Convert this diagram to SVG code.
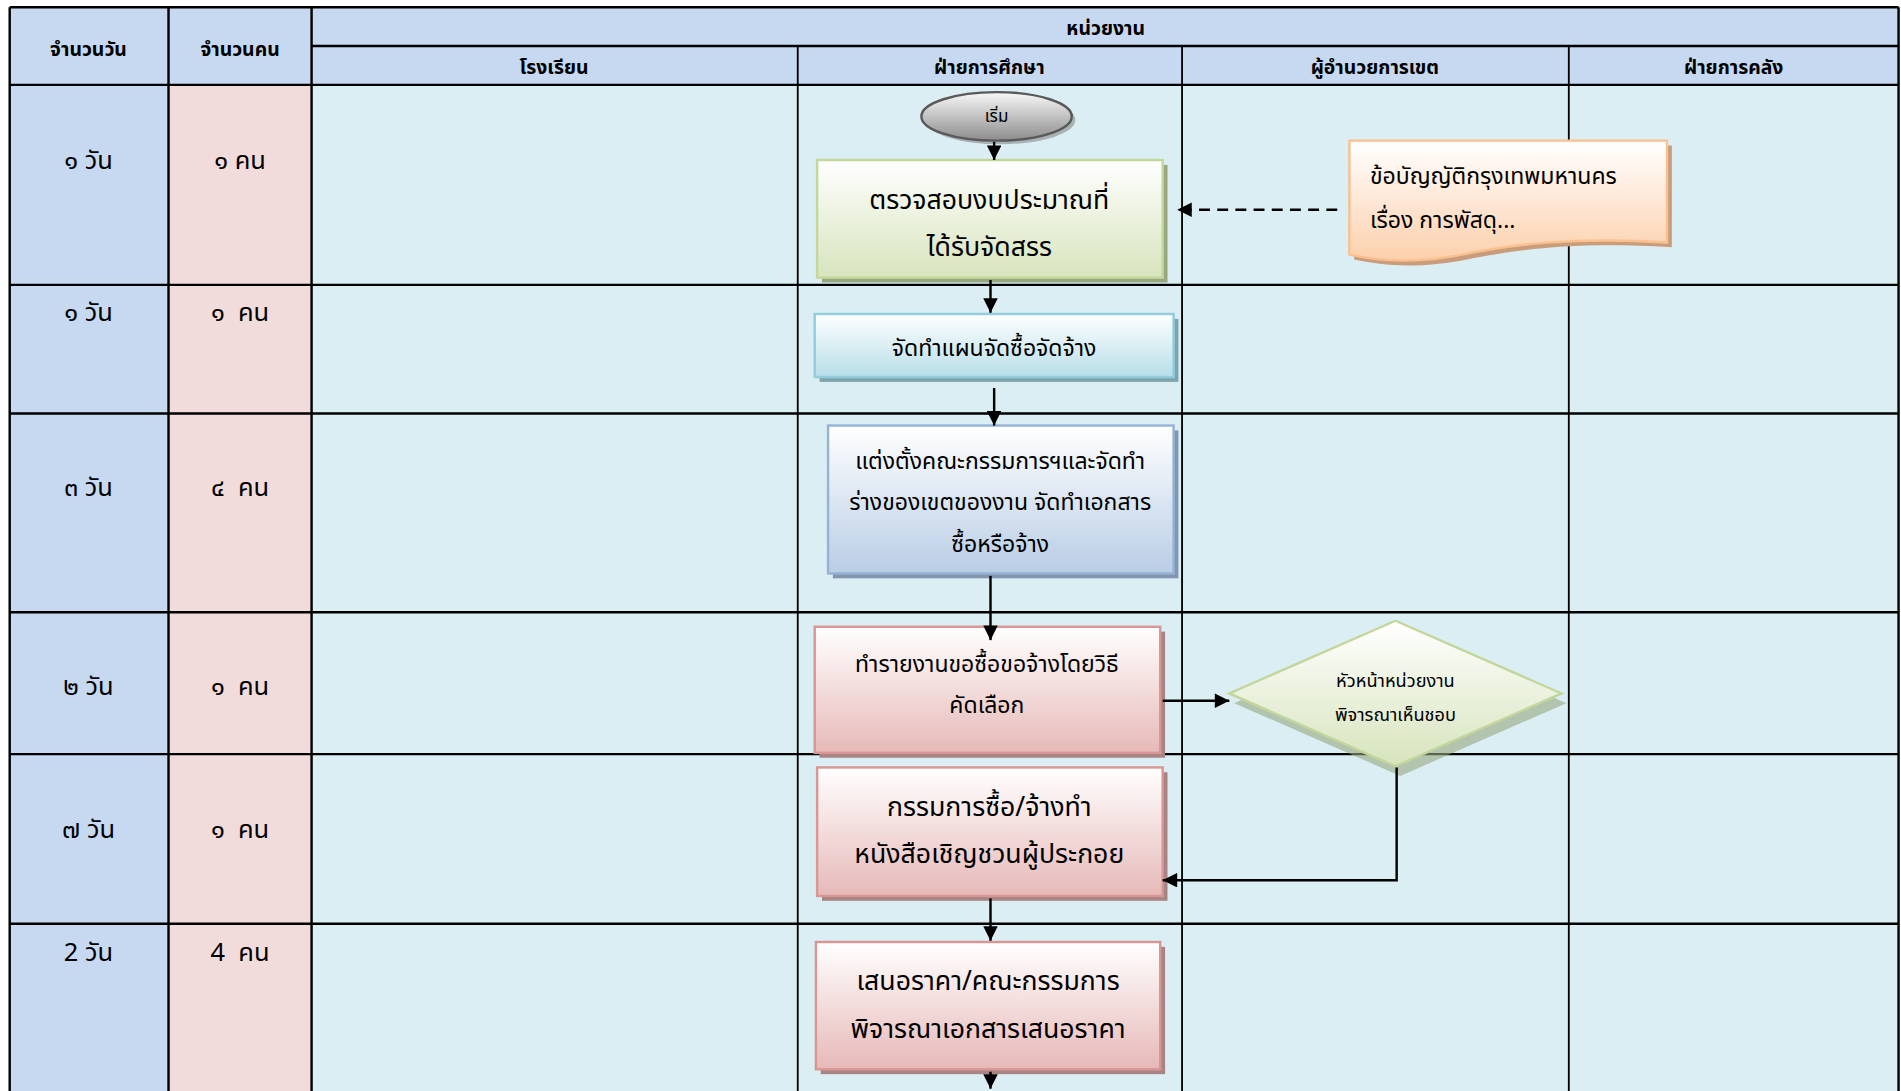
<svg xmlns="http://www.w3.org/2000/svg" width="1901" height="1091" viewBox="0 0 1901 1091">
<defs>
<linearGradient id="gGreen" x1="0" y1="0" x2="0" y2="1"><stop offset="0" stop-color="#ffffff"/><stop offset="1" stop-color="#d7e4bd"/></linearGradient>
<linearGradient id="gCyan" x1="0" y1="0" x2="0" y2="1"><stop offset="0" stop-color="#ffffff"/><stop offset="1" stop-color="#b7dee8"/></linearGradient>
<linearGradient id="gBlue" x1="0" y1="0" x2="0" y2="1"><stop offset="0" stop-color="#ffffff"/><stop offset="1" stop-color="#b9cde5"/></linearGradient>
<linearGradient id="gRed" x1="0" y1="0" x2="0" y2="1"><stop offset="0" stop-color="#ffffff"/><stop offset="1" stop-color="#e6b9b8"/></linearGradient>
<linearGradient id="gOrange" x1="0" y1="0" x2="0" y2="1"><stop offset="0" stop-color="#ffffff"/><stop offset="1" stop-color="#fcd0ac"/></linearGradient>
<linearGradient id="gGray" x1="0" y1="0" x2="0" y2="1"><stop offset="0" stop-color="#f8f8f8"/><stop offset="1" stop-color="#8c8c8c"/></linearGradient>
<marker id="arr" viewBox="0 0 10 10" refX="10" refY="5" markerWidth="14" markerHeight="12" orient="auto" markerUnits="userSpaceOnUse">
<path d="M0,0 L10,5 L0,10 Z" fill="#000"/>
</marker>
</defs>
<style>
text{font-family:"Noto Sans Thai","Noto Sans","DejaVu Sans",sans-serif;fill:#000;text-anchor:middle}
.hd{font-size:16px;font-weight:bold}
.cell{font-size:21px;white-space:pre}
.big{font-size:22px}
.mid{font-size:19px}
.sm{font-size:15px}
.grid{stroke:#000;stroke-width:2;fill:none}
.vgrid{stroke:#000;stroke-width:1.5;fill:none}
.con{stroke:#000;stroke-width:2;fill:none}
.shadow{opacity:0.55}
</style>
<rect width="1901" height="1091" fill="#ffffff"/>
<g transform="scale(1.21237)">
<g id="table">
<rect x="8" y="6" width="1558" height="64" fill="#c6d9f1"/>
<rect x="8" y="70" width="131" height="840" fill="#c6d9f1"/>
<rect x="139" y="70" width="118" height="840" fill="#f2dcdb"/>
<rect x="257" y="70" width="1309" height="840" fill="#daeef3"/>
<path class="grid" d="M8,6 H1566 M257,38 H1566 M8,70 H1566 M8,235 H1566 M8,341 H1566 M8,505 H1566 M8,622 H1566 M8,762 H1566"/>
<path class="grid" d="M8,6 V910 M139,6 V910 M257,6 V910 M1566,6 V910"/>
<path class="vgrid" d="M658,38 V910 M975,38 V910 M1294,38 V910"/>
<text class="hd" x="73" y="46">จำนวนวัน</text>
<text class="hd" x="198" y="46">จำนวนคน</text>
<text class="hd" x="912" y="29">หน่วยงาน</text>
<text class="hd" x="457" y="61">โรงเรียน</text>
<text class="hd" x="816" y="61">ฝ่ายการศึกษา</text>
<text class="hd" x="1134" y="61">ผู้อำนวยการเขต</text>
<text class="hd" x="1430" y="61">ฝ่ายการคลัง</text>
<text class="cell" x="73" y="139">๑ วัน</text>
<text class="cell" x="198" y="139">๑ คน</text>
<text class="cell" x="73" y="265">๑ วัน</text>
<text class="cell" x="198" y="265" xml:space="preserve">๑  คน</text>
<text class="cell" x="73" y="409">๓ วัน</text>
<text class="cell" x="198" y="409" xml:space="preserve">๔  คน</text>
<text class="cell" x="73" y="573">๒ วัน</text>
<text class="cell" x="198" y="573" xml:space="preserve">๑  คน</text>
<text class="cell" x="73" y="691">๗ วัน</text>
<text class="cell" x="198" y="691" xml:space="preserve">๑  คน</text>
<text class="cell" x="73" y="793">2 วัน</text>
<text class="cell" x="198" y="793" xml:space="preserve">4  คน</text>
</g>
<g id="start">
<ellipse cx="825" cy="99" rx="62" ry="20" fill="#7f7f7f" class="shadow"/>
<ellipse cx="822" cy="96" rx="62" ry="20" fill="url(#gGray)" stroke="#595959" stroke-width="2"/>
<text class="sm" x="822" y="101" style="font-size:14px">เริ่ม</text>
</g>
<g id="n1">
<rect x="678" y="136" width="285" height="97" fill="#98a87f"/>
<rect x="674" y="132" width="285" height="97" fill="url(#gGreen)" stroke="#c3d69b" stroke-width="2"/>
<text class="big" x="816" y="172">ตรวจสอบงบประมาณที่</text>
<text class="big" x="816" y="211">ได้รับจัดสรร</text>
</g>
<g id="n2">
<rect x="676" y="263" width="296" height="52" fill="#7fa4ad"/>
<rect x="672" y="259" width="296" height="52" fill="url(#gCyan)" stroke="#93cddd" stroke-width="2"/>
<text class="mid" x="820" y="294">จัดทำแผนจัดซื้อจัดจ้าง</text>
</g>
<g id="n3">
<rect x="687" y="355" width="285" height="122" fill="#8296b0"/>
<rect x="683" y="351" width="285" height="122" fill="url(#gBlue)" stroke="#95b3d7" stroke-width="2"/>
<text class="mid" x="825" y="387">แต่งตั้งคณะกรรมการฯและจัดทำ</text>
<text class="mid" x="825" y="421">ร่างของเขตของงาน จัดทำเอกสาร</text>
<text class="mid" x="825" y="455">ซื้อหรือจ้าง</text>
</g>
<g id="n4">
<rect x="676" y="521" width="285" height="104" fill="#a88584"/>
<rect x="672" y="517" width="285" height="104" fill="url(#gRed)" stroke="#d99694" stroke-width="2"/>
<text class="mid" x="814" y="554">ทำรายงานขอซื้อขอจ้างโดยวิธี</text>
<text class="mid" x="814" y="588">คัดเลือก</text>
</g>
<g id="n5">
<path d="M1018,580 L1155,520 L1292,580 L1155,640 Z" fill="#98a87f" opacity="0.6"/>
<path d="M1014,572 L1151,512 L1288,572 L1151,632 Z" fill="url(#gGreen)" stroke="#c3d69b" stroke-width="2"/>
<text class="sm" x="1151" y="567">หัวหน้าหน่วยงาน</text>
<text class="sm" x="1151" y="595">พิจารณาเห็นชอบ</text>
</g>
<g id="n6">
<rect x="678" y="637" width="285" height="106" fill="#a88584"/>
<rect x="674" y="633" width="285" height="106" fill="url(#gRed)" stroke="#d99694" stroke-width="2"/>
<text class="big" x="816" y="673">กรรมการซื้อ/จ้างทำ</text>
<text class="big" x="816" y="712">หนังสือเชิญชวนผู้ประกอย</text>
</g>
<g id="n7">
<rect x="677" y="781" width="284" height="105" fill="#a88584"/>
<rect x="673" y="777" width="284" height="105" fill="url(#gRed)" stroke="#d99694" stroke-width="2"/>
<text class="big" x="815" y="817">เสนอราคา/คณะกรรมการ</text>
<text class="big" x="815" y="856">พิจารณาเอกสารเสนอราคา</text>
</g>
<g id="doc">
<path d="M1117,120 H1379 V204 C1300,199 1250,206 1210,214 C1170,222 1140,219 1117,214 Z" fill="#c99d7c"/>
<path d="M1113,116 H1375 V200 C1296,195 1246,202 1206,210 C1166,218 1136,215 1113,210 Z" fill="url(#gOrange)" stroke="#fac090" stroke-width="2"/>
<text class="mid" x="1130" y="152" style="text-anchor:start">ข้อบัญญัติกรุงเทพมหานคร</text>
<text class="mid" x="1130" y="188" style="text-anchor:start">เรื่อง การพัสดุ...</text>
</g>
<g id="connectors">
<path class="con" d="M820,117 V132" marker-end="url(#arr)"/>
<path class="con" d="M817,231 V258" marker-end="url(#arr)"/>
<path class="con" d="M820,320 V351" marker-end="url(#arr)"/>
<path class="con" d="M817,475 V528" marker-end="url(#arr)"/>
<path class="con" d="M959,578 H1014" marker-end="url(#arr)"/>
<path class="con" d="M1152,633 V726 H959" marker-end="url(#arr)"/>
<path class="con" d="M817,741 V776" marker-end="url(#arr)"/>
<path class="con" d="M817,884 V898" marker-end="url(#arr)"/>
<path class="con" d="M1103,173 H971" stroke-dasharray="9,6" marker-end="url(#arr)"/>
</g>
</g>
</svg>
